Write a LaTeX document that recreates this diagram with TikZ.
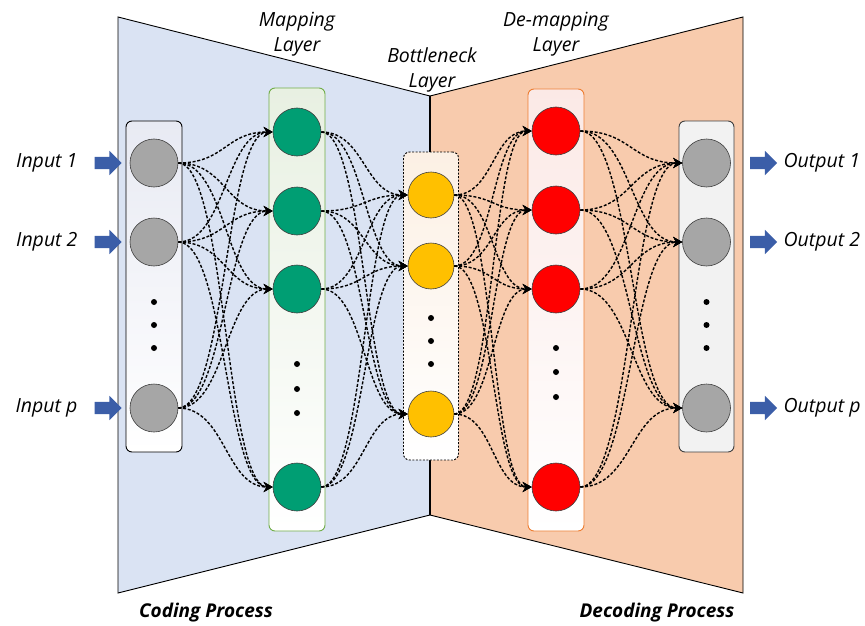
\documentclass[tikz,border=0pt]{standalone}
\usepackage{fontspec}
\setmainfont{Open Sans}
\usepackage{tikz}
\usetikzlibrary{arrows.meta,shapes.arrows}
\definecolor{codefill}{HTML}{DAE3F3}
\definecolor{decodefill}{HTML}{F8CBAD}
\definecolor{unitgray}{HTML}{A6A6A6}
\definecolor{unitgreen}{HTML}{009E73}
\definecolor{unityellow}{HTML}{FFC000}
\definecolor{unitred}{HTML}{FF0000}
\definecolor{mapgreen}{HTML}{70AD47}
\definecolor{demaporange}{HTML}{ED7D31}
\definecolor{flowblue}{HTML}{3B5EA8}
\definecolor{edge}{HTML}{404040}
\definecolor{inshade}{HTML}{E8EAF3}
\definecolor{mapshade}{HTML}{E8F0E2}
\definecolor{botshade}{HTML}{FCF0E4}
\definecolor{demshade}{HTML}{FBE9E6}
\definecolor{outfill}{HTML}{F2F2F2}
\tikzset{
  panel/.style={draw=black, line width=0.9pt, line join=miter},
  layer/.style={rounded corners=6pt, minimum width=56pt, inner sep=0pt, line width=0.9pt},
  unit/.style={circle, draw=edge, line width=0.6pt, minimum size=48pt, inner sep=0pt},
  dot/.style={circle, fill=black, inner sep=0pt, minimum size=6pt},
  link/.style={line width=1.4pt, dash pattern=on 3pt off 1.8pt, out=0, in=180,
    -{Stealth[length=9pt,width=10pt]}},
  flow/.style={single arrow, fill=flowblue, minimum height=27pt, text width=0pt,
    text height=12pt, text depth=0pt, single arrow head extend=6pt, inner sep=0pt},
  lab/.style={font=\fontsize{19.5}{25}\selectfont\itshape, text=black},
  labb/.style={font=\fontsize{19}{25}\selectfont\bfseries\itshape, text=black},
}

\begin{document}
\begin{tikzpicture}[x=1pt,y=-1pt]
  \useasboundingbox (0,0) rectangle (865,626);
  % coding / decoding panels
  \coordinate (ctl) at (118,17);
  \coordinate (cbl) at (118,593);
  \coordinate (nt) at (430,96);
  \coordinate (nb) at (430,515);
  \coordinate (dtr) at (743,17);
  \coordinate (dbr) at (743,593);
  \draw[panel, fill=codefill] (ctl) -- (nt) -- (nb) -- (cbl) -- cycle;
  \draw[panel, fill=decodefill] (nt) -- (dtr) -- (dbr) -- (nb) -- cycle;
  \draw[line width=1.8pt] (nt) -- (nb);

  % layer boxes
  \node[layer, draw=black, top color=inshade, bottom color=white, minimum height=331pt] (inbox) at (154,286.5) {};
  \node[layer, draw=mapgreen, top color=mapshade, bottom color=white, minimum height=443pt] (mapbox) at (297,309.5) {};
  \node[layer, draw=black, dash pattern=on 2pt off 1.5pt, top color=botshade, bottom color=white,
    minimum width=55pt, minimum height=308pt] (botbox) at (431,306) {};
  \node[layer, draw=demaporange, top color=demshade, bottom color=white, minimum height=442pt] (dembox) at (556,310) {};
  \node[layer, draw=edge, fill=outfill, minimum width=55pt, minimum height=331pt] (outbox) at (706.5,286.5) {};

  % units
  \foreach \n/\y in {1/163,2/242,3/408}
    \node[unit, fill=unitgray] (in\n) at (154,\y) {};
  \foreach \n/\y in {1/132,2/211,3/289,4/487}
    \node[unit, fill=unitgreen] (map\n) at (297,\y) {};
  \foreach \n/\y in {1/195,2/266,3/414}
    \node[unit, fill=unityellow, minimum size=46pt] (bot\n) at (431,\y) {};
  \foreach \n/\y in {1/131,2/210,3/289,4/487}
    \node[unit, fill=unitred] (dem\n) at (556,\y) {};
  \foreach \n/\y in {1/163,2/242,3/408}
    \node[unit, fill=unitgray] (out\n) at (706.5,\y) {};

  % ellipsis dots
  \foreach \y [count=\k] in {302,325,348} {
    \node[dot] (indot\k) at (154,\y) {};
    \node[dot] (outdot\k) at (706.5,\y) {};
  }
  \foreach \y [count=\k] in {364,389,413}
    \node[dot] (mapdot\k) at (297,\y) {};
  \foreach \y [count=\k] in {318,341,364}
    \node[dot] (botdot\k) at (431,\y) {};
  \foreach \y [count=\k] in {348,372,397}
    \node[dot] (demdot\k) at (556,\y) {};

  % connections (handles = half the gap)
  \foreach \i in {1,2,3}
    \foreach \j in {1,...,4}
      \draw[link] (in\i.east) to[distance=47pt] (map\j.west);
  \foreach \i in {1,...,4}
    \foreach \j in {1,2,3}
      \draw[link] (map\i.east) to[distance=43pt] (bot\j.west);
  \foreach \i in {1,2,3}
    \foreach \j in {1,...,4}
      \draw[link] (bot\i.east) to[distance=39pt] (dem\j.west);
  \foreach \i in {1,...,4}
    \foreach \j in {1,2,3}
      \draw[link] (dem\i.east) to[distance=51pt] (out\j.west);

  % inputs and outputs
  \foreach \n/\y/\t in {1/163/1,2/242/2,3/408/p} {
    \node[flow] (inarr\n) at (105,\y) {};
    \node[lab, anchor=east] (inlab\n) at (81,\y) {Input \t};
    \node[flow] (outarr\n) at (760.5,\y) {};
    \node[lab, anchor=west] (outlab\n) at (780,\y) {Output \t};
  }

  % titles
  \node[lab, align=center] (maplab) at (297,34) {Mapping\\Layer};
  \node[lab, align=center] (botlab) at (432,70) {Bottleneck\\Layer};
  \node[lab, align=center] (demlab) at (556,34) {De-mapping\\Layer};
  \node[labb] (codlab) at (206,613) {Coding Process};
  \node[labb] (decodlab) at (657,613) {Decoding Process};
\end{tikzpicture}
\end{document}
